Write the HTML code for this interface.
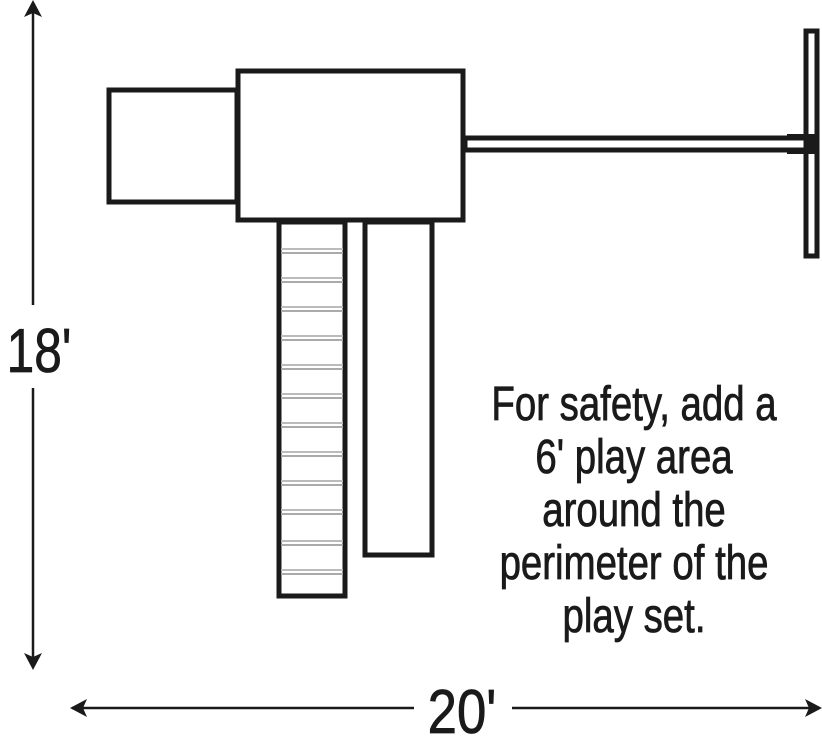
<!DOCTYPE html>
<html><head><style>html,body{margin:0;padding:0;background:#fff;}svg{display:block}</style></head>
<body>
<svg width="822" height="746" viewBox="0 0 822 746" xmlns="http://www.w3.org/2000/svg">
<g fill="none" stroke="#1a1a1a" stroke-width="5">
<rect x="109" y="90" width="128" height="112"/>
<rect x="238" y="71" width="225" height="149"/>
<rect x="279" y="222" width="66" height="374"/>
<rect x="365" y="222" width="67" height="333"/>
<rect x="806" y="31" width="11" height="225"/>
<rect x="465" y="138" width="345" height="12"/>
</g>
<rect x="787" y="134" width="25" height="5" fill="#1a1a1a"/>
<rect x="787" y="149" width="25" height="5" fill="#1a1a1a"/>
<rect x="810" y="134" width="5" height="20" fill="#1a1a1a"/>
<g stroke-width="2">
<line x1="281" x2="343" y1="249" y2="249" stroke="#bbb"/><line x1="281" x2="343" y1="253" y2="253" stroke="#aaa"/>
<line x1="281" x2="343" y1="278" y2="278" stroke="#bbb"/><line x1="281" x2="343" y1="282" y2="282" stroke="#aaa"/>
<line x1="281" x2="343" y1="307" y2="307" stroke="#bbb"/><line x1="281" x2="343" y1="311" y2="311" stroke="#aaa"/>
<line x1="281" x2="343" y1="336" y2="336" stroke="#bbb"/><line x1="281" x2="343" y1="340" y2="340" stroke="#aaa"/>
<line x1="281" x2="343" y1="365" y2="365" stroke="#bbb"/><line x1="281" x2="343" y1="369" y2="369" stroke="#aaa"/>
<line x1="281" x2="343" y1="394" y2="394" stroke="#bbb"/><line x1="281" x2="343" y1="398" y2="398" stroke="#aaa"/>
<line x1="281" x2="343" y1="423" y2="423" stroke="#bbb"/><line x1="281" x2="343" y1="427" y2="427" stroke="#aaa"/>
<line x1="281" x2="343" y1="452" y2="452" stroke="#bbb"/><line x1="281" x2="343" y1="456" y2="456" stroke="#aaa"/>
<line x1="281" x2="343" y1="481" y2="481" stroke="#bbb"/><line x1="281" x2="343" y1="485" y2="485" stroke="#aaa"/>
<line x1="281" x2="343" y1="510" y2="510" stroke="#bbb"/><line x1="281" x2="343" y1="514" y2="514" stroke="#aaa"/>
<line x1="281" x2="343" y1="541" y2="541" stroke="#bbb"/><line x1="281" x2="343" y1="545" y2="545" stroke="#aaa"/>
<line x1="281" x2="343" y1="570" y2="570" stroke="#bbb"/><line x1="281" x2="343" y1="574" y2="574" stroke="#aaa"/>
</g>
<g stroke="#1a1a1a" stroke-width="2.5">
<line x1="33" y1="10" x2="33" y2="305"/>
<line x1="33" y1="388" x2="33" y2="660"/>
<line x1="72" y1="708" x2="414" y2="708"/>
<line x1="512" y1="708" x2="812" y2="708"/>
</g>
<g fill="#1a1a1a">
<polygon points="33,0 24,17 33,13 42,17"/>
<polygon points="33,670 24,653 33,657 42,653"/>
<polygon points="70,708 87,699 83,708 87,717"/>
<polygon points="822,708 805,699 809,708 805,717"/>
</g>
<g font-family="Liberation Sans, sans-serif" fill="#1a1a1a" stroke="#1a1a1a" stroke-width="0.8">
<text transform="translate(39,372) scale(0.8,1)" font-size="62" text-anchor="middle">18'</text>
<text transform="translate(462,733) scale(0.85,1)" font-size="62" text-anchor="middle">20'</text>
<g font-size="48" text-anchor="middle">
<text transform="translate(634,420) scale(0.8,1)">For safety, add a</text>
<text transform="translate(634,473) scale(0.8,1)">6' play area</text>
<text transform="translate(634,526) scale(0.8,1)">around the</text>
<text transform="translate(634,579) scale(0.8,1)">perimeter of the</text>
<text transform="translate(634,632) scale(0.8,1)">play set.</text>
</g>
</g>
</svg>
</body></html>
